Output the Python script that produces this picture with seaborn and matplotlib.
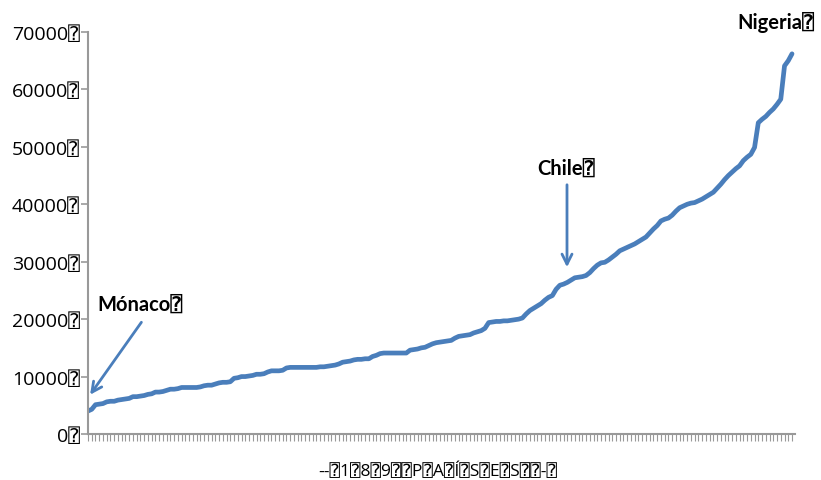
import matplotlib
matplotlib.use("Agg")
import matplotlib.pyplot as plt
import seaborn as sns
import pandas as pd
import numpy as np

# ---- data ----
values = [
    4000, 4300, 5100, 5200, 5300, 5600, 5700, 5700, 5900, 6000,
    6100, 6200, 6500, 6500, 6600, 6700, 6900, 7000, 7300, 7300,
    7400, 7600, 7800, 7800, 7900, 8100, 8100, 8100, 8100, 8100,
    8200, 8400, 8500, 8500, 8700, 8900, 9000, 9000, 9100, 9700,
    9800, 10000, 10000, 10100, 10200, 10400, 10400, 10500, 10800, 11000,
    11000, 11000, 11100, 11500, 11600, 11600, 11600, 11600, 11600, 11600,
    11600, 11600, 11700, 11700, 11800, 11900, 12000, 12200, 12500, 12600,
    12700, 12900, 13000, 13000, 13100, 13100, 13500, 13700, 14000, 14100,
    14100, 14100, 14100, 14100, 14100, 14100, 14600, 14700, 14800, 15000,
    15100, 15400, 15700, 15900, 16000, 16100, 16200, 16300, 16700, 17000,
    17100, 17200, 17300, 17600, 17800, 18000, 18400, 19400, 19500, 19600,
    19600, 19700, 19700, 19800, 19900, 20000, 20200, 20900, 21500, 21900,
    22300, 22700, 23300, 23800, 24100, 25200, 25900, 26100, 26400, 26800,
    27200, 27300, 27400, 27600, 28100, 28800, 29400, 29800, 29900, 30300,
    30800, 31300, 31900, 32200, 32500, 32800, 33100, 33500, 33900, 34300,
    35000, 35700, 36300, 37100, 37400, 37600, 38100, 38800, 39400, 39700,
    40000, 40200, 40300, 40600, 40900, 41300, 41700, 42100, 42800, 43500,
    44300, 45000, 45600, 46200, 46700, 47600, 48200, 48700, 49900, 54200,
    54800, 55300, 56000, 56600, 57400, 58300, 64100, 65000, 66200,
]
country_index = list(range(len(values)))
y_ticks = [0, 10000, 20000, 30000, 40000, 50000, 60000, 70000]
y_tick_labels = [f"{v}\u2370" for v in y_ticks]
x_label = "--\u23701\u23708\u23709\u2370\u2370P\u2370A\u2370\u00cd\u2370S\u2370E\u2370S\u2370\u2370-\u2370"
annotations = [
    ("M\u00f3naco\u2370", 2),
    ("Chile\u2370", 128),
    ("Nigeria\u2370", 188),
]

df = pd.DataFrame({"idx": country_index, "val": values})

sns.set_style("white")
plt.rcParams["font.family"] = ["Open Sans", "DejaVu Sans", "DejaVu Sans Mono"]

fig = plt.figure(figsize=(8.21, 4.81), dpi=100)
ax = fig.add_axes([88 / 821, 1 - 435 / 481, (795 - 88) / 821, (435 - 33) / 481])

line_color = "#4A7EBB"
sns.lineplot(data=df, x="idx", y="val", ax=ax, color=line_color, linewidth=3.4,
             solid_joinstyle="round", solid_capstyle="round")

ax.set_xlim(0, 188.8)
ax.set_ylim(0, 70000)
ax.set_xticks(country_index)
ax.set_xticklabels([])
ax.set_yticks(y_ticks)
ax.set_yticklabels(y_tick_labels, fontsize=14)
ax.tick_params(axis="x", length=5, width=0.8, color="#999999", direction="out", bottom=True)
ax.tick_params(axis="y", length=5, width=1.2, color="#999999", direction="out", left=True, pad=1,
               labelcolor="black")
for s in ["top", "right"]:
    ax.spines[s].set_visible(False)
for s in ["left", "bottom"]:
    ax.spines[s].set_color("#999999")
    ax.spines[s].set_linewidth(1.5)
ax.set_xlabel("")
ax.set_ylabel("")

lab_font = dict(family=["Lato", "DejaVu Sans", "DejaVu Sans Mono"], fontweight="bold", fontsize=14.5, color="black")
arrow_kw = dict(arrowstyle="->", color=line_color, lw=2, mutation_scale=18)

# Mónaco
ax.annotate("", xy=(88.5 / 821, 1 - 398 / 481), xycoords="figure fraction",
            xytext=(143 / 821, 1 - 321 / 481), textcoords="figure fraction", arrowprops=arrow_kw)
fig.text(97 / 821, 1 - 305 / 481, annotations[0][0], ha="left", va="center", **lab_font)
# Chile
ax.annotate("", xy=(567 / 821, 1 - 271 / 481), xycoords="figure fraction",
            xytext=(567 / 821, 1 - 183 / 481), textcoords="figure fraction", arrowprops=arrow_kw)
fig.text(566 / 821, 1 - 169 / 481, annotations[1][0], ha="center", va="center", **lab_font)
# Nigeria
fig.text(814 / 821, 1 - 22 / 481, annotations[2][0], ha="right", va="center", **lab_font)

fig.text(438 / 821, 1 - 471 / 481, x_label, ha="center", va="center", fontsize=12.5, color="black")

fig.savefig("out.png", dpi=100)
